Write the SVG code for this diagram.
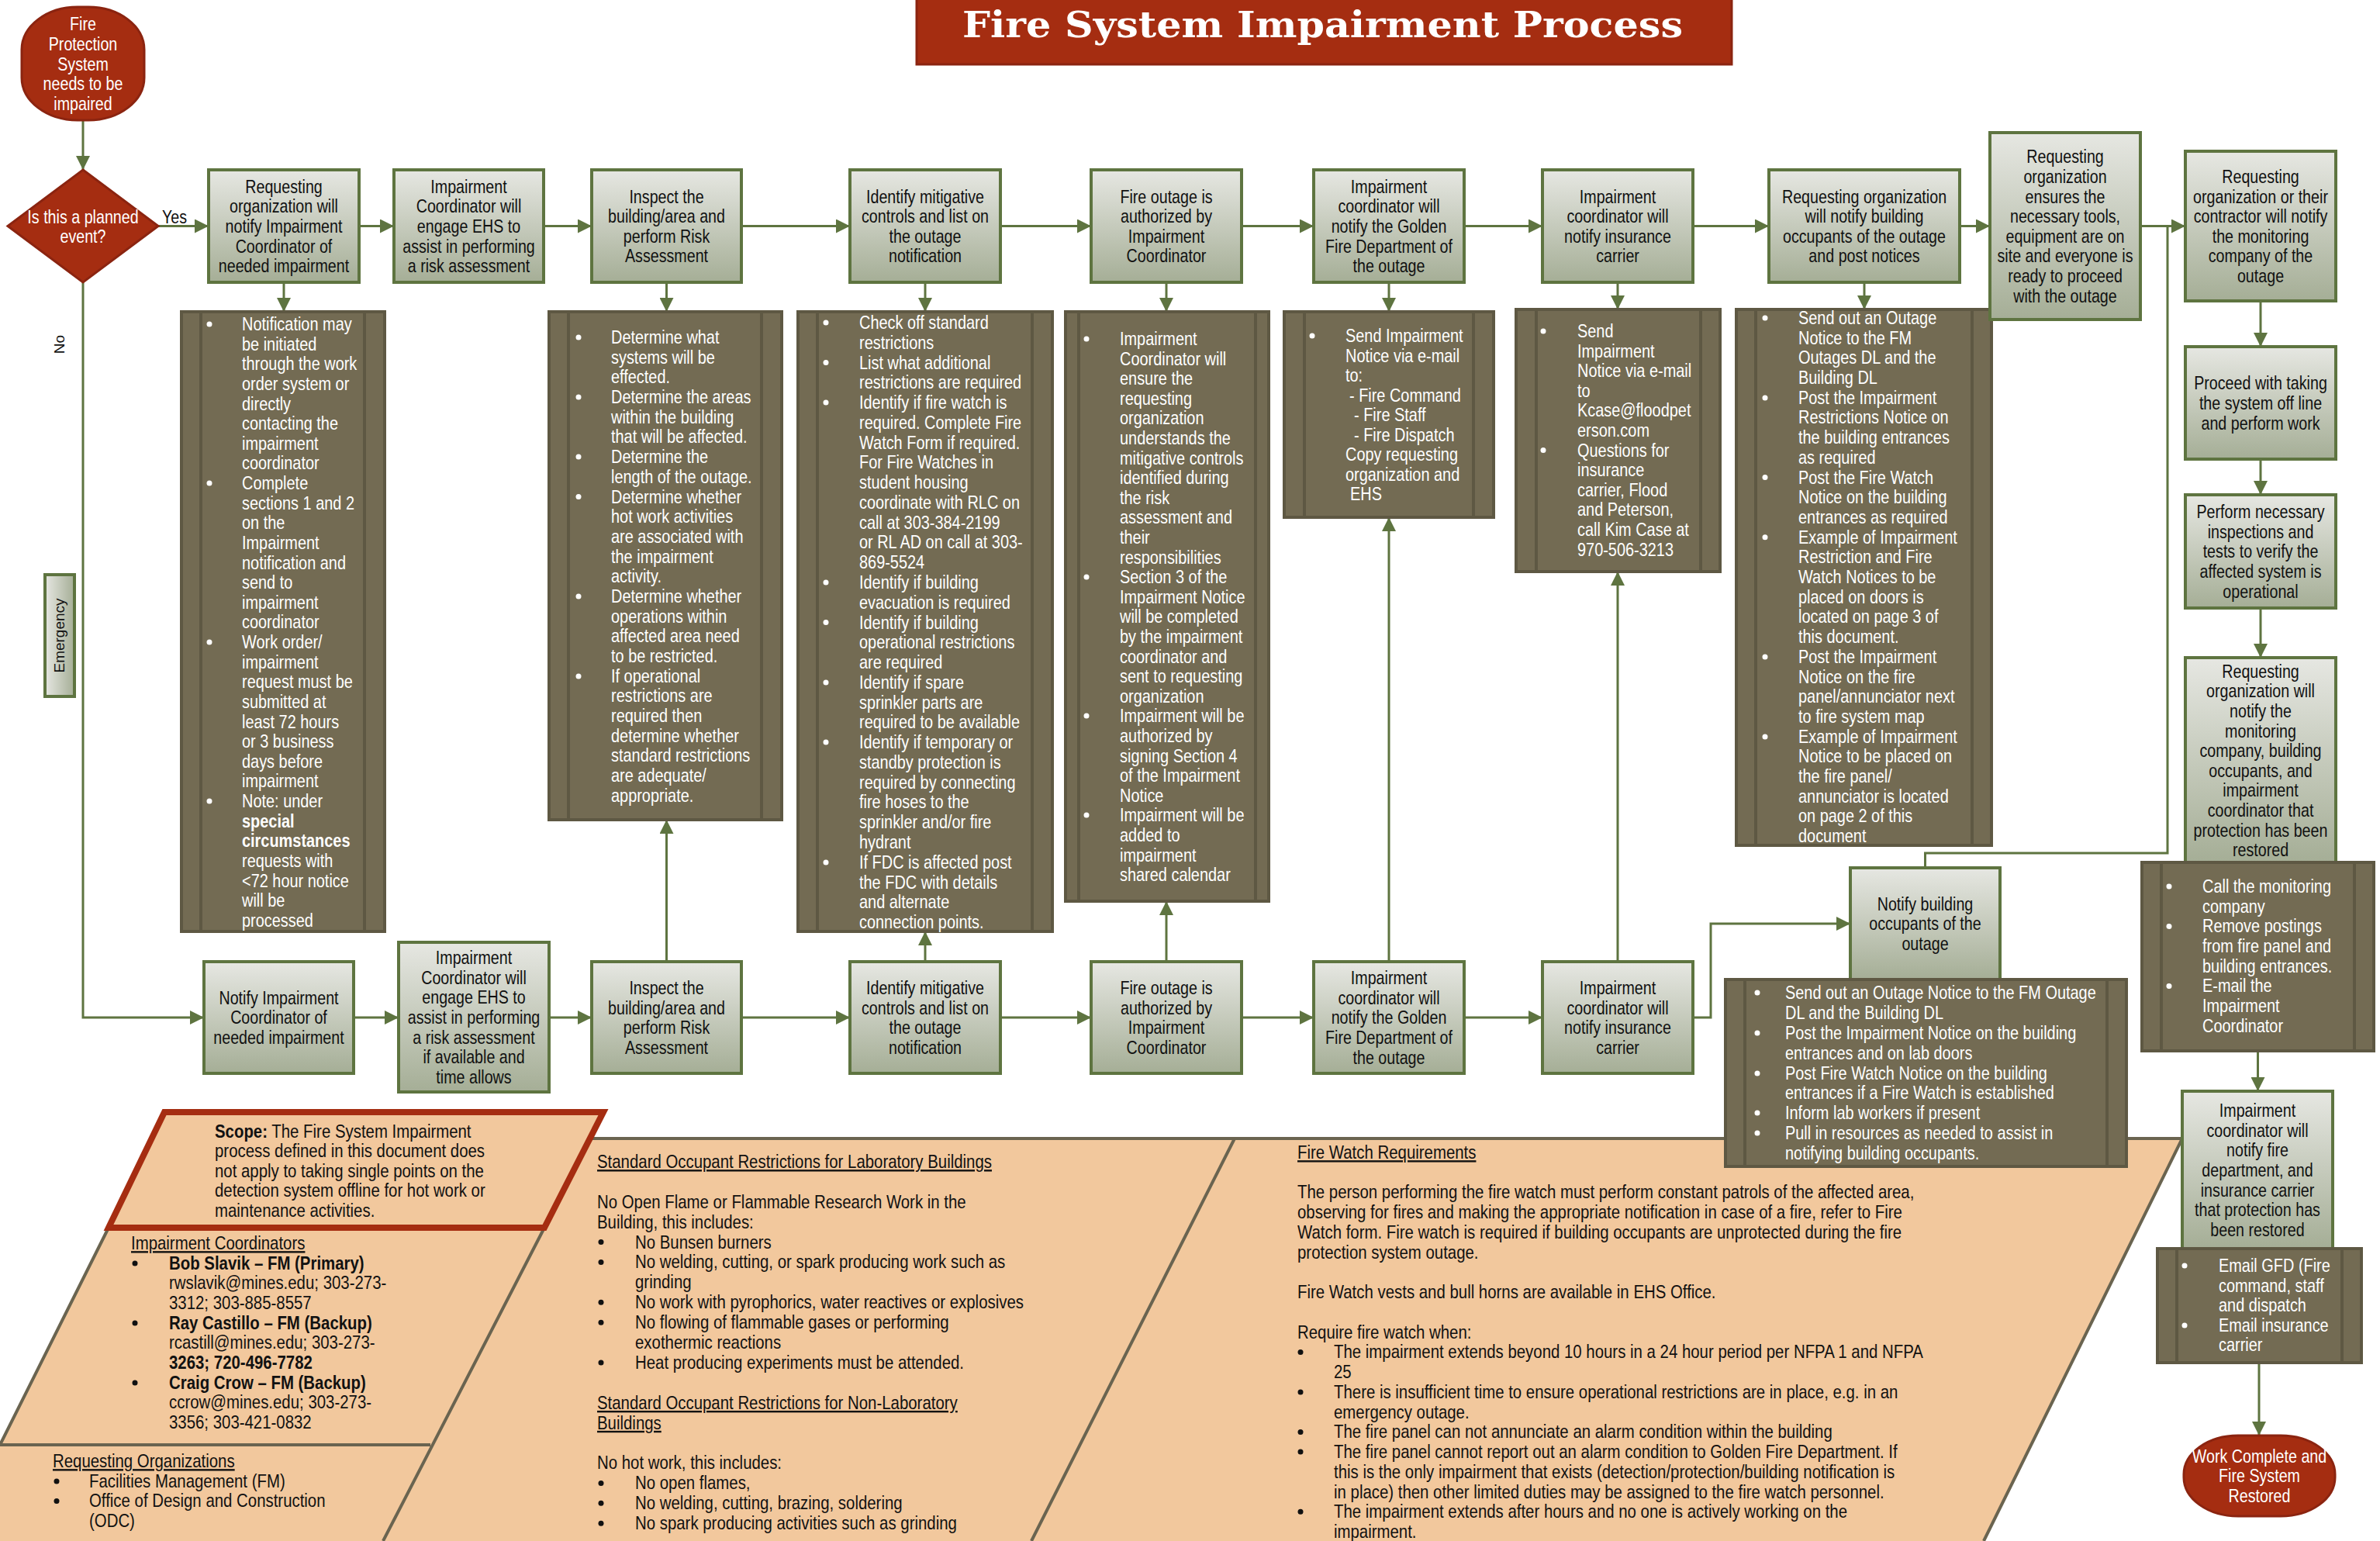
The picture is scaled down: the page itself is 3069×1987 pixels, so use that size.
<svg xmlns="http://www.w3.org/2000/svg" width="3069" height="1987" viewBox="0 0 3069 1987">
<defs>
<linearGradient id="gBox" x1="0" y1="0" x2="0" y2="1"><stop offset="0" stop-color="#E6E7E2"/><stop offset="1" stop-color="#A5AE96"/></linearGradient>
<linearGradient id="gBoxH" x1="0" y1="0" x2="1" y2="0"><stop offset="0" stop-color="#E6E7E2"/><stop offset="1" stop-color="#A5AE96"/></linearGradient>
<marker id="ah" viewBox="0 0 18 18" markerWidth="18" markerHeight="18" refX="18" refY="9" orient="auto" markerUnits="userSpaceOnUse"><path d="M0,0 L18,9 L0,18 z" fill="#5E7440"/></marker>
<style>
.box{fill:url(#gBox);stroke:#5E7440;stroke-width:4}
.boxh{fill:url(#gBoxH);stroke:#5E7440;stroke-width:4}
.note{fill:#736B53;stroke:#5E5843;stroke-width:4}
.nin{stroke:#5E5843;stroke-width:4;fill:none}
.term{fill:#A52D11;stroke:#8B2410;stroke-width:3}
.conn{stroke:#5E7440;stroke-width:3;fill:none}
.conn.a{marker-end:url(#ah)}
.t{font-family:"Liberation Sans",Arial,sans-serif;font-size:24px}
.bx{fill:#111;text-anchor:middle}
.wc{fill:#fff;text-anchor:middle}
.nw{fill:#fff}
.nb{fill:#111}
.wb{fill:#fff}
.bb{fill:#111}
.u{text-decoration:underline}
.b{font-weight:bold}
.peach{fill:#F2C89D}
.pl{stroke:#6A6450;stroke-width:4;fill:none}
.lbl{font-family:"Liberation Sans",sans-serif;font-size:19px;fill:#111}
</style>
</defs>
<rect width="3069" height="1987" fill="#fff"/>

<g id="info-panels">
<polygon class="peach" points="212,1434 778,1434 761,1468 2814,1468 2558,1987 0,1987 0,1863 140,1583"/>
<path class="pl" d="M761,1468 H2814 L2558,1987 M140,1583 L0,1863 M0,1863 H555 M702,1583 L494,1987 M1592,1468 L1330,1987"/>
<polygon points="212,1434 778,1434 702,1583 140,1583" fill="#F2C89D" stroke="#A52D11" stroke-width="8"/>
<text class="t nb" y="1467" transform="translate(277,0) scale(0.85,1)"><tspan x="0" class="b">Scope:</tspan> The Fire System Impairment<tspan x="0" dy="25.5">process defined in this document does</tspan><tspan x="0" dy="25.5">not apply to taking single points on the</tspan><tspan x="0" dy="25.5">detection system offline for hot work  or</tspan><tspan x="0" dy="25.5">maintenance activities.</tspan></text>
<text class="t nb" y="1611" transform="translate(169,0) scale(0.85,1)"><tspan x="0" class="u">Impairment Coordinators</tspan><tspan x="57.65" dy="25.65" class="b">Bob Slavik – FM (Primary)</tspan><tspan x="57.65" dy="25.65">rwslavik@mines.edu; 303-273-</tspan><tspan x="57.65" dy="25.65">3312; 303-885-8557</tspan><tspan x="57.65" dy="25.65" class="b">Ray Castillo – FM (Backup)</tspan><tspan x="57.65" dy="25.65">rcastill@mines.edu; 303-273-</tspan><tspan x="57.65" dy="25.65" class="b">3263; 720-496-7782</tspan><tspan x="57.65" dy="25.65" class="b">Craig Crow – FM (Backup)</tspan><tspan x="57.65" dy="25.65">ccrow@mines.edu; 303-273-</tspan><tspan x="57.65" dy="25.65">3356; 303-421-0832</tspan></text>
<g class="bb"><circle cx="174" cy="1629" r="3.5"/><circle cx="174" cy="1706" r="3.5"/><circle cx="174" cy="1783" r="3.5"/></g>
<text class="t nb" y="1892" transform="translate(68,0) scale(0.85,1)"><tspan x="0" class="u">Requesting Organizations</tspan><tspan x="55.3" dy="25.7">Facilities Management (FM)</tspan><tspan x="55.3" dy="25.7">Office of Design and Construction</tspan><tspan x="55.3" dy="25.7">(ODC)</tspan></text>
<g class="bb"><circle cx="73" cy="1910" r="3.5"/><circle cx="73" cy="1935.5" r="3.5"/></g>
<text class="t nb" y="1506" transform="translate(770,0) scale(0.85,1)"><tspan x="0" class="u">Standard Occupant Restrictions for Laboratory Buildings</tspan><tspan x="0" dy="51.8">No Open Flame or Flammable Research Work in the</tspan><tspan x="0" dy="25.9">Building, this includes:</tspan><tspan x="57.65" dy="25.9">No Bunsen burners</tspan><tspan x="57.65" dy="25.9">No welding, cutting, or spark producing work such as</tspan><tspan x="57.65" dy="25.9">grinding</tspan><tspan x="57.65" dy="25.9">No work with pyrophorics, water reactives or explosives</tspan><tspan x="57.65" dy="25.9">No flowing of flammable gases or performing</tspan><tspan x="57.65" dy="25.9">exothermic reactions</tspan><tspan x="57.65" dy="25.9">Heat producing experiments must be attended.</tspan><tspan x="0" dy="51.8" class="u">Standard Occupant Restrictions for Non-Laboratory</tspan><tspan x="0" dy="25.9" class="u">Buildings</tspan><tspan x="0" dy="51.8">No hot work, this includes:</tspan><tspan x="57.65" dy="25.9">No open flames,</tspan><tspan x="57.65" dy="25.9">No welding, cutting, brazing, soldering</tspan><tspan x="57.65" dy="25.9">No spark producing activities such as grinding</tspan></text>
<g class="bb"><circle cx="775" cy="1601.6" r="3.5"/><circle cx="775" cy="1627.5" r="3.5"/><circle cx="775" cy="1679.3" r="3.5"/><circle cx="775" cy="1705.2" r="3.5"/><circle cx="775" cy="1757" r="3.5"/><circle cx="775" cy="1912.4" r="3.5"/><circle cx="775" cy="1938.3" r="3.5"/><circle cx="775" cy="1964.2" r="3.5"/></g>
<text class="t nb" y="1494" transform="translate(1673,0) scale(0.85,1)"><tspan x="0" class="u">Fire Watch Requirements</tspan><tspan x="0" dy="51.48">The person performing the fire watch must perform constant patrols of the affected area,</tspan><tspan x="0" dy="25.74">observing for fires and making the appropriate notification in case of a fire, refer to Fire</tspan><tspan x="0" dy="25.74">Watch form.  Fire watch is required if building occupants are unprotected during the fire</tspan><tspan x="0" dy="25.74">protection system outage.</tspan><tspan x="0" dy="51.48">Fire Watch vests and bull horns are available in EHS Office.</tspan><tspan x="0" dy="51.48">Require fire watch when:</tspan><tspan x="55.3" dy="25.74">The impairment extends beyond 10 hours in a 24 hour period per NFPA 1 and NFPA</tspan><tspan x="55.3" dy="25.74">25</tspan><tspan x="55.3" dy="25.74">There is insufficient time to ensure operational restrictions are in place, e.g. in an</tspan><tspan x="55.3" dy="25.74">emergency outage.</tspan><tspan x="55.3" dy="25.74">The fire panel can not annunciate an alarm condition within the building</tspan><tspan x="55.3" dy="25.74">The fire panel cannot report out an alarm condition to Golden Fire Department. If</tspan><tspan x="55.3" dy="25.74">this is the only impairment that exists (detection/protection/building notification is</tspan><tspan x="55.3" dy="25.74">in place) then other limited duties may be assigned to the fire watch personnel.</tspan><tspan x="55.3" dy="25.74">The impairment extends after hours and no one is actively working on the</tspan><tspan x="55.3" dy="25.74">impairment.</tspan></text>
<g class="bb"><circle cx="1677" cy="1743.4" r="3.5"/><circle cx="1677" cy="1794.9" r="3.5"/><circle cx="1677" cy="1846.4" r="3.5"/><circle cx="1677" cy="1872.1" r="3.5"/><circle cx="1677" cy="1949.3" r="3.5"/></g>
</g>

<g id="connectors">
<path class="conn a" d="M107,155 V219"/>
<path class="conn a" d="M204,291.5 H269"/>
<path class="conn a" d="M463,291.5 H508"/>
<path class="conn a" d="M701,291.5 H763"/>
<path class="conn a" d="M956,291.5 H1096"/>
<path class="conn a" d="M1290,291.5 H1407"/>
<path class="conn a" d="M1601,291.5 H1694"/>
<path class="conn a" d="M1888,291.5 H1989"/>
<path class="conn a" d="M2183,291.5 H2281"/>
<path class="conn a" d="M2527,291.5 H2566"/>
<path class="conn a" d="M2760,291.5 H2818"/>
<path class="conn a" d="M366,364 V402"/>
<path class="conn a" d="M859.5,364 V402"/>
<path class="conn a" d="M1193,364 V402"/>
<path class="conn a" d="M1504,364 V402"/>
<path class="conn a" d="M1791,364 V402"/>
<path class="conn a" d="M2086,364 V399"/>
<path class="conn a" d="M2404,364 V399"/>
<path class="conn a" d="M2915,388 V447"/>
<path class="conn a" d="M2915,592 V638"/>
<path class="conn a" d="M2915,784 V848"/>
<path class="conn a" d="M2911.5,1355 V1407"/>
<path class="conn a" d="M2913,1757 V1851"/>
<path class="conn a" d="M107,364 V1312 H263"/>
<path class="conn a" d="M456,1312 H514"/>
<path class="conn a" d="M708,1312 H763"/>
<path class="conn a" d="M956,1312 H1096"/>
<path class="conn a" d="M1290,1312 H1407"/>
<path class="conn a" d="M1601,1312 H1694"/>
<path class="conn a" d="M1888,1312 H1989"/>
<path class="conn a" d="M859.5,1240 V1057"/>
<path class="conn a" d="M1193,1240 V1201"/>
<path class="conn a" d="M1504,1240 V1162"/>
<path class="conn a" d="M1791,1240 V667"/>
<path class="conn a" d="M2086,1240 V737"/>
<path class="conn a" d="M2183,1312 H2206 V1191 H2386"/>
<path class="conn" d="M2482.5,1119 V1100 H2795 V291.5"/>
<text class="t" y="288" font-size="22" fill="#111" transform="translate(209,0) scale(0.82,1)" x="0">Yes</text>
<text class="lbl" transform="translate(83,444) rotate(-90)" text-anchor="middle">No</text>
</g>

<g id="title">
<rect x="1182" y="-4" width="1051" height="87" fill="#A52D11" stroke="#8B2410" stroke-width="3"/>
<text x="1705.5" y="48" text-anchor="middle" font-family="'DejaVu Serif',serif" font-weight="bold" font-size="46" fill="#fff" textLength="929" lengthAdjust="spacingAndGlyphs">Fire System Impairment Process</text>
</g>

<g id="start">
<rect class="term" x="28" y="9" width="158" height="146" rx="72" ry="55"/>
<text class="t wc" y="39" transform="translate(107,0) scale(0.82,1)"><tspan x="0">Fire</tspan><tspan x="0" dy="25.8">Protection</tspan><tspan x="0" dy="25.8">System</tspan><tspan x="0" dy="25.8">needs to be</tspan><tspan x="0" dy="25.8">impaired</tspan></text>
</g>

<g id="decision">
<polygon points="107,219 204,291.5 107,364 10,291.5" fill="#A52D11" stroke="#8B2410" stroke-width="3"/>
<text class="t wc" y="287.7" transform="translate(107,0) scale(0.82,1)"><tspan x="0">Is this a planned</tspan><tspan x="0" dy="25.6">event?</tspan></text>
</g>

<g id="emergency-label">
<rect class="boxh" x="58" y="741" width="38" height="157"/>
<text class="lbl" transform="translate(83,819.5) rotate(-90)" text-anchor="middle">Emergency</text>
</g>

<g id="p1">
<rect class="box" x="269" y="219" width="194" height="145"/>
<text class="t bx" y="248.8" transform="translate(366,0) scale(0.82,1)"><tspan x="0">Requesting</tspan><tspan x="0" dy="25.6">organization will</tspan><tspan x="0" dy="25.6">notify Impairment</tspan><tspan x="0" dy="25.6">Coordinator of</tspan><tspan x="0" dy="25.6">needed impairment</tspan></text>
</g>
<g id="p2">
<rect class="box" x="508" y="219" width="193" height="145"/>
<text class="t bx" y="248.8" transform="translate(604.5,0) scale(0.82,1)"><tspan x="0">Impairment</tspan><tspan x="0" dy="25.6">Coordinator will</tspan><tspan x="0" dy="25.6">engage EHS to</tspan><tspan x="0" dy="25.6">assist in performing</tspan><tspan x="0" dy="25.6">a risk assessment</tspan></text>
</g>
<g id="p3">
<rect class="box" x="763" y="219" width="193" height="145"/>
<text class="t bx" y="261.6" transform="translate(859.5,0) scale(0.82,1)"><tspan x="0">Inspect the</tspan><tspan x="0" dy="25.6">building/area and</tspan><tspan x="0" dy="25.6">perform Risk</tspan><tspan x="0" dy="25.6">Assessment</tspan></text>
</g>
<g id="p4">
<rect class="box" x="1096" y="219" width="194" height="145"/>
<text class="t bx" y="261.6" transform="translate(1193,0) scale(0.82,1)"><tspan x="0">Identify mitigative</tspan><tspan x="0" dy="25.6">controls and list on</tspan><tspan x="0" dy="25.6">the outage</tspan><tspan x="0" dy="25.6">notification</tspan></text>
</g>
<g id="p5">
<rect class="box" x="1407" y="219" width="194" height="145"/>
<text class="t bx" y="261.6" transform="translate(1504,0) scale(0.82,1)"><tspan x="0">Fire outage is</tspan><tspan x="0" dy="25.6">authorized by</tspan><tspan x="0" dy="25.6">Impairment</tspan><tspan x="0" dy="25.6">Coordinator</tspan></text>
</g>
<g id="p6">
<rect class="box" x="1694" y="219" width="194" height="145"/>
<text class="t bx" y="248.8" transform="translate(1791,0) scale(0.82,1)"><tspan x="0">Impairment</tspan><tspan x="0" dy="25.6">coordinator will</tspan><tspan x="0" dy="25.6">notify the Golden</tspan><tspan x="0" dy="25.6">Fire Department of</tspan><tspan x="0" dy="25.6">the outage</tspan></text>
</g>
<g id="p7">
<rect class="box" x="1989" y="219" width="194" height="145"/>
<text class="t bx" y="261.6" transform="translate(2086,0) scale(0.82,1)"><tspan x="0">Impairment</tspan><tspan x="0" dy="25.6">coordinator will</tspan><tspan x="0" dy="25.6">notify  insurance</tspan><tspan x="0" dy="25.6">carrier</tspan></text>
</g>
<g id="p8">
<rect class="box" x="2281" y="219" width="246" height="145"/>
<text class="t bx" y="261.6" transform="translate(2404,0) scale(0.82,1)"><tspan x="0">Requesting organization</tspan><tspan x="0" dy="25.6">will notify building</tspan><tspan x="0" dy="25.6">occupants of the outage</tspan><tspan x="0" dy="25.6">and post notices</tspan></text>
</g>

<g id="n1">
<rect class="note" x="234" y="402" width="262" height="799"/>
<path class="nin" d="M259,402 V1201 M470,402 V1201"/>
<text class="t nw" y="426" transform="translate(312,0) scale(0.83,1)"><tspan x="0">Notification may</tspan><tspan x="0" dy="25.63">be initiated</tspan><tspan x="0" dy="25.63">through the work</tspan><tspan x="0" dy="25.63">order system or</tspan><tspan x="0" dy="25.63">directly</tspan><tspan x="0" dy="25.63">contacting the</tspan><tspan x="0" dy="25.63">impairment</tspan><tspan x="0" dy="25.63">coordinator</tspan><tspan x="0" dy="25.63">Complete</tspan><tspan x="0" dy="25.63">sections 1 and 2</tspan><tspan x="0" dy="25.63">on the</tspan><tspan x="0" dy="25.63">Impairment</tspan><tspan x="0" dy="25.63">notification and</tspan><tspan x="0" dy="25.63">send to</tspan><tspan x="0" dy="25.63">impairment</tspan><tspan x="0" dy="25.63">coordinator</tspan><tspan x="0" dy="25.63">Work order/</tspan><tspan x="0" dy="25.63">impairment</tspan><tspan x="0" dy="25.63">request must be</tspan><tspan x="0" dy="25.63">submitted at</tspan><tspan x="0" dy="25.63">least 72 hours</tspan><tspan x="0" dy="25.63">or 3 business</tspan><tspan x="0" dy="25.63">days before</tspan><tspan x="0" dy="25.63">impairment</tspan><tspan x="0" dy="25.63">Note: under</tspan><tspan x="0" dy="25.63" class="b">special</tspan><tspan x="0" dy="25.63" class="b">circumstances</tspan><tspan x="0" dy="25.63">requests with</tspan><tspan x="0" dy="25.63">&lt;72 hour notice</tspan><tspan x="0" dy="25.63">will be</tspan><tspan x="0" dy="25.63">processed</tspan></text>
<g class="wb"><circle cx="270" cy="418" r="3.5"/><circle cx="270" cy="623" r="3.5"/><circle cx="270" cy="828" r="3.5"/><circle cx="270" cy="1033" r="3.5"/></g>
</g>

<g id="n3">
<rect class="note" x="708" y="402" width="300" height="655"/>
<path class="nin" d="M733,402 V1057 M982,402 V1057"/>
<text class="t nw" y="443" transform="translate(788,0) scale(0.83,1)"><tspan x="0">Determine what</tspan><tspan x="0" dy="25.69">systems will be</tspan><tspan x="0" dy="25.69">effected.</tspan><tspan x="0" dy="25.69">Determine the areas</tspan><tspan x="0" dy="25.69">within the building</tspan><tspan x="0" dy="25.69">that will be affected.</tspan><tspan x="0" dy="25.69">Determine the</tspan><tspan x="0" dy="25.69">length of the outage.</tspan><tspan x="0" dy="25.69">Determine whether</tspan><tspan x="0" dy="25.69">hot work activities</tspan><tspan x="0" dy="25.69">are associated with</tspan><tspan x="0" dy="25.69">the impairment</tspan><tspan x="0" dy="25.69">activity.</tspan><tspan x="0" dy="25.69">Determine whether</tspan><tspan x="0" dy="25.69">operations within</tspan><tspan x="0" dy="25.69">affected area need</tspan><tspan x="0" dy="25.69">to be restricted.</tspan><tspan x="0" dy="25.69">If operational</tspan><tspan x="0" dy="25.69">restrictions are</tspan><tspan x="0" dy="25.69">required then</tspan><tspan x="0" dy="25.69">determine whether</tspan><tspan x="0" dy="25.69">standard restrictions</tspan><tspan x="0" dy="25.69">are adequate/</tspan><tspan x="0" dy="25.69">appropriate.</tspan></text>
<g class="wb"><circle cx="746" cy="435" r="3.5"/><circle cx="746" cy="512" r="3.5"/><circle cx="746" cy="589" r="3.5"/><circle cx="746" cy="640.5" r="3.5"/><circle cx="746" cy="769" r="3.5"/><circle cx="746" cy="872" r="3.5"/></g>
</g>

<g id="n4">
<rect class="note" x="1029" y="402" width="328" height="799"/>
<path class="nin" d="M1054,402 V1201 M1331,402 V1201"/>
<text class="t nw" y="424" transform="translate(1108,0) scale(0.83,1)"><tspan x="0">Check off standard</tspan><tspan x="0" dy="25.77">restrictions</tspan><tspan x="0" dy="25.77">List what additional</tspan><tspan x="0" dy="25.77">restrictions are required</tspan><tspan x="0" dy="25.77">Identify if fire watch is</tspan><tspan x="0" dy="25.77">required. Complete Fire</tspan><tspan x="0" dy="25.77">Watch Form if required.</tspan><tspan x="0" dy="25.77">For Fire Watches in</tspan><tspan x="0" dy="25.77">student housing</tspan><tspan x="0" dy="25.77">coordinate with RLC on</tspan><tspan x="0" dy="25.77">call at 303-384-2199</tspan><tspan x="0" dy="25.77">or RL AD on call at 303-</tspan><tspan x="0" dy="25.77">869-5524</tspan><tspan x="0" dy="25.77">Identify if building</tspan><tspan x="0" dy="25.77">evacuation is required</tspan><tspan x="0" dy="25.77">Identify if building</tspan><tspan x="0" dy="25.77">operational restrictions</tspan><tspan x="0" dy="25.77">are required</tspan><tspan x="0" dy="25.77">Identify if spare</tspan><tspan x="0" dy="25.77">sprinkler parts are</tspan><tspan x="0" dy="25.77">required to be available</tspan><tspan x="0" dy="25.77">Identify if  temporary or</tspan><tspan x="0" dy="25.77">standby protection is</tspan><tspan x="0" dy="25.77">required by connecting</tspan><tspan x="0" dy="25.77">fire hoses to the</tspan><tspan x="0" dy="25.77">sprinkler and/or fire</tspan><tspan x="0" dy="25.77">hydrant</tspan><tspan x="0" dy="25.77">If FDC is affected post</tspan><tspan x="0" dy="25.77">the FDC with details</tspan><tspan x="0" dy="25.77">and alternate</tspan><tspan x="0" dy="25.77">connection points.</tspan></text>
<g class="wb"><circle cx="1065" cy="416" r="3.5"/><circle cx="1065" cy="467.5" r="3.5"/><circle cx="1065" cy="519" r="3.5"/><circle cx="1065" cy="751" r="3.5"/><circle cx="1065" cy="802.5" r="3.5"/><circle cx="1065" cy="880" r="3.5"/><circle cx="1065" cy="957" r="3.5"/><circle cx="1065" cy="1112" r="3.5"/></g>
</g>

<g id="n5">
<rect class="note" x="1374" y="402" width="262" height="760"/>
<path class="nin" d="M1391,402 V1162 M1619,402 V1162"/>
<text class="t nw" y="445" transform="translate(1444,0) scale(0.83,1)"><tspan x="0">Impairment</tspan><tspan x="0" dy="25.6">Coordinator will</tspan><tspan x="0" dy="25.6">ensure the</tspan><tspan x="0" dy="25.6">requesting</tspan><tspan x="0" dy="25.6">organization</tspan><tspan x="0" dy="25.6">understands the</tspan><tspan x="0" dy="25.6">mitigative controls</tspan><tspan x="0" dy="25.6">identified during</tspan><tspan x="0" dy="25.6">the risk</tspan><tspan x="0" dy="25.6">assessment and</tspan><tspan x="0" dy="25.6">their</tspan><tspan x="0" dy="25.6">responsibilities</tspan><tspan x="0" dy="25.6">Section 3 of the</tspan><tspan x="0" dy="25.6">Impairment Notice</tspan><tspan x="0" dy="25.6">will be completed</tspan><tspan x="0" dy="25.6">by the impairment</tspan><tspan x="0" dy="25.6">coordinator and</tspan><tspan x="0" dy="25.6">sent to requesting</tspan><tspan x="0" dy="25.6">organization</tspan><tspan x="0" dy="25.6">Impairment will be</tspan><tspan x="0" dy="25.6">authorized by</tspan><tspan x="0" dy="25.6">signing Section 4</tspan><tspan x="0" dy="25.6">of the Impairment</tspan><tspan x="0" dy="25.6">Notice</tspan><tspan x="0" dy="25.6">Impairment will be</tspan><tspan x="0" dy="25.6">added to</tspan><tspan x="0" dy="25.6">impairment</tspan><tspan x="0" dy="25.6">shared calendar</tspan></text>
<g class="wb"><circle cx="1401" cy="437" r="3.5"/><circle cx="1401" cy="744" r="3.5"/><circle cx="1401" cy="923" r="3.5"/><circle cx="1401" cy="1051" r="3.5"/></g>
</g>

<g id="n6">
<rect class="note" x="1656" y="402" width="270" height="265"/>
<path class="nin" d="M1682,402 V667 M1900,402 V667"/>
<text class="t nw" y="441" transform="translate(1735,0) scale(0.83,1)"><tspan x="0">Send Impairment</tspan><tspan x="0" dy="25.55">Notice via e-mail</tspan><tspan x="0" dy="25.55">to:</tspan><tspan x="6" dy="25.55">-  Fire Command</tspan><tspan x="13.3" dy="25.55">- Fire Staff</tspan><tspan x="13.3" dy="25.55">- Fire Dispatch</tspan><tspan x="0" dy="25.55">Copy requesting</tspan><tspan x="0" dy="25.55">organization  and</tspan><tspan x="7.2" dy="25.55">EHS</tspan></text>
<g class="wb"><circle cx="1692" cy="433" r="3.5"/></g>
</g>

<g id="n7">
<rect class="note" x="1955" y="399" width="263" height="338"/>
<path class="nin" d="M1981,399 V737 M2193,399 V737"/>
<text class="t nw" y="435" transform="translate(2034,0) scale(0.83,1)"><tspan x="0">Send</tspan><tspan x="0" dy="25.6">Impairment</tspan><tspan x="0" dy="25.6">Notice via e-mail</tspan><tspan x="0" dy="25.6">to</tspan><tspan x="0" dy="25.6">Kcase@floodpet</tspan><tspan x="0" dy="25.6">erson.com</tspan><tspan x="0" dy="25.6">Questions for</tspan><tspan x="0" dy="25.6">insurance</tspan><tspan x="0" dy="25.6">carrier, Flood</tspan><tspan x="0" dy="25.6">and Peterson,</tspan><tspan x="0" dy="25.6">call Kim Case at</tspan><tspan x="0" dy="25.6">970-506-3213</tspan></text>
<g class="wb"><circle cx="1990" cy="427" r="3.5"/><circle cx="1990" cy="580.6" r="3.5"/></g>
</g>

<g id="n8">
<rect class="note" x="2239" y="399" width="329" height="691"/>
<path class="nin" d="M2264,399 V1090 M2543,399 V1090"/>
<text class="t nw" y="418" transform="translate(2319,0) scale(0.83,1)"><tspan x="0">Send out an Outage</tspan><tspan x="0" dy="25.7">Notice to the FM</tspan><tspan x="0" dy="25.7">Outages DL  and the</tspan><tspan x="0" dy="25.7">Building DL</tspan><tspan x="0" dy="25.7">Post the Impairment</tspan><tspan x="0" dy="25.7">Restrictions Notice on</tspan><tspan x="0" dy="25.7">the building entrances</tspan><tspan x="0" dy="25.7">as required</tspan><tspan x="0" dy="25.7">Post the Fire Watch</tspan><tspan x="0" dy="25.7">Notice on the building</tspan><tspan x="0" dy="25.7">entrances as required</tspan><tspan x="0" dy="25.7">Example of Impairment</tspan><tspan x="0" dy="25.7">Restriction  and Fire</tspan><tspan x="0" dy="25.7">Watch Notices to be</tspan><tspan x="0" dy="25.7">placed on doors is</tspan><tspan x="0" dy="25.7">located on page 3 of</tspan><tspan x="0" dy="25.7">this document.</tspan><tspan x="0" dy="25.7">Post the Impairment</tspan><tspan x="0" dy="25.7">Notice on the fire</tspan><tspan x="0" dy="25.7">panel/annunciator next</tspan><tspan x="0" dy="25.7">to fire system  map</tspan><tspan x="0" dy="25.7">Example of Impairment</tspan><tspan x="0" dy="25.7">Notice to be placed on</tspan><tspan x="0" dy="25.7">the fire panel/</tspan><tspan x="0" dy="25.7">annunciator is located</tspan><tspan x="0" dy="25.7">on page 2 of this</tspan><tspan x="0" dy="25.7">document</tspan></text>
<g class="wb"><circle cx="2276" cy="410" r="3.5"/><circle cx="2276" cy="513" r="3.5"/><circle cx="2276" cy="615.6" r="3.5"/><circle cx="2276" cy="692.7" r="3.5"/><circle cx="2276" cy="847" r="3.5"/><circle cx="2276" cy="950" r="3.5"/></g>
</g>

<g id="p9">
<rect class="box" x="2566" y="171" width="194" height="241"/>
<text class="t bx" y="210.4" transform="translate(2663,0) scale(0.82,1)"><tspan x="0">Requesting</tspan><tspan x="0" dy="25.6">organization</tspan><tspan x="0" dy="25.6">ensures the</tspan><tspan x="0" dy="25.6">necessary tools,</tspan><tspan x="0" dy="25.6">equipment are on</tspan><tspan x="0" dy="25.6">site and everyone is</tspan><tspan x="0" dy="25.6">ready to proceed</tspan><tspan x="0" dy="25.6">with the outage</tspan></text>
</g>
<g id="p10">
<rect class="box" x="2818" y="195" width="194" height="193"/>
<text class="t bx" y="236" transform="translate(2915,0) scale(0.82,1)"><tspan x="0">Requesting</tspan><tspan x="0" dy="25.6">organization or their</tspan><tspan x="0" dy="25.6">contractor will notify</tspan><tspan x="0" dy="25.6">the monitoring</tspan><tspan x="0" dy="25.6">company of the</tspan><tspan x="0" dy="25.6">outage</tspan></text>
</g>
<g id="p11">
<rect class="box" x="2818" y="447" width="194" height="145"/>
<text class="t bx" y="502.4" transform="translate(2915,0) scale(0.82,1)"><tspan x="0">Proceed with taking</tspan><tspan x="0" dy="25.6">the system off line</tspan><tspan x="0" dy="25.6">and perform work</tspan></text>
</g>
<g id="p12">
<rect class="box" x="2818" y="638" width="194" height="146"/>
<text class="t bx" y="668.3" transform="translate(2915,0) scale(0.82,1)"><tspan x="0">Perform necessary</tspan><tspan x="0" dy="25.6">inspections and</tspan><tspan x="0" dy="25.6">tests to verify the</tspan><tspan x="0" dy="25.6">affected system is</tspan><tspan x="0" dy="25.6">operational</tspan></text>
</g>
<g id="p13">
<rect class="box" x="2818" y="848" width="194" height="264"/>
<text class="t bx" y="873.8" transform="translate(2915,0) scale(0.82,1)"><tspan x="0">Requesting</tspan><tspan x="0" dy="25.6">organization will</tspan><tspan x="0" dy="25.6">notify the</tspan><tspan x="0" dy="25.6">monitoring</tspan><tspan x="0" dy="25.6">company, building</tspan><tspan x="0" dy="25.6">occupants, and</tspan><tspan x="0" dy="25.6">impairment</tspan><tspan x="0" dy="25.6">coordinator that</tspan><tspan x="0" dy="25.6">protection has been</tspan><tspan x="0" dy="25.6">restored</tspan></text>
</g>
<g id="n13">
<rect class="note" x="2762" y="1112" width="299" height="243"/>
<path class="nin" d="M2787,1112 V1355 M3036,1112 V1355"/>
<text class="t nw" y="1151" transform="translate(2840,0) scale(0.83,1)"><tspan x="0">Call the monitoring</tspan><tspan x="0" dy="25.7">company</tspan><tspan x="0" dy="25.7">Remove postings</tspan><tspan x="0" dy="25.7">from fire panel and</tspan><tspan x="0" dy="25.7">building entrances.</tspan><tspan x="0" dy="25.7">E-mail the</tspan><tspan x="0" dy="25.7">Impairment</tspan><tspan x="0" dy="25.7">Coordinator</tspan></text>
<g class="wb"><circle cx="2797" cy="1143" r="3.5"/><circle cx="2797" cy="1194.4" r="3.5"/><circle cx="2797" cy="1271.5" r="3.5"/></g>
</g>
<g id="p14">
<rect class="box" x="2814" y="1407" width="194" height="203"/>
<text class="t bx" y="1440.2" transform="translate(2911,0) scale(0.82,1)"><tspan x="0">Impairment</tspan><tspan x="0" dy="25.6">coordinator will</tspan><tspan x="0" dy="25.6">notify  fire</tspan><tspan x="0" dy="25.6">department, and</tspan><tspan x="0" dy="25.6">insurance carrier</tspan><tspan x="0" dy="25.6">that protection has</tspan><tspan x="0" dy="25.6">been restored</tspan></text>
</g>
<g id="n14">
<rect class="note" x="2782" y="1610" width="263" height="147"/>
<path class="nin" d="M2807,1610 V1757 M3020,1610 V1757"/>
<text class="t nw" y="1640" transform="translate(2861,0) scale(0.83,1)"><tspan x="0">Email GFD (Fire</tspan><tspan x="0" dy="25.6">command, staff</tspan><tspan x="0" dy="25.6">and dispatch</tspan><tspan x="0" dy="25.6">Email insurance</tspan><tspan x="0" dy="25.6">carrier</tspan></text>
<g class="wb"><circle cx="2817" cy="1632" r="3.5"/><circle cx="2817" cy="1709" r="3.5"/></g>
</g>
<g id="end">
<rect class="term" x="2816" y="1851" width="195" height="104" rx="70" ry="50"/>
<text class="t wc" y="1885.9" transform="translate(2913.5,0) scale(0.82,1)"><tspan x="0">Work Complete and</tspan><tspan x="0" dy="25.6">Fire System</tspan><tspan x="0" dy="25.6">Restored</tspan></text>
</g>

<g id="e1">
<rect class="box" x="263" y="1240" width="193" height="144"/>
<text class="t bx" y="1294.9" transform="translate(359.5,0) scale(0.82,1)"><tspan x="0">Notify Impairment</tspan><tspan x="0" dy="25.6">Coordinator of</tspan><tspan x="0" dy="25.6">needed impairment</tspan></text>
</g>
<g id="e2">
<rect class="box" x="514" y="1215" width="194" height="193"/>
<text class="t bx" y="1243.2" transform="translate(611,0) scale(0.82,1)"><tspan x="0">Impairment</tspan><tspan x="0" dy="25.6">Coordinator will</tspan><tspan x="0" dy="25.6">engage EHS to</tspan><tspan x="0" dy="25.6">assist in performing</tspan><tspan x="0" dy="25.6">a risk assessment</tspan><tspan x="0" dy="25.6">if available and</tspan><tspan x="0" dy="25.6">time allows</tspan></text>
</g>
<g id="e3">
<rect class="box" x="763" y="1240" width="193" height="144"/>
<text class="t bx" y="1282.1" transform="translate(859.5,0) scale(0.82,1)"><tspan x="0">Inspect the</tspan><tspan x="0" dy="25.6">building/area and</tspan><tspan x="0" dy="25.6">perform Risk</tspan><tspan x="0" dy="25.6">Assessment</tspan></text>
</g>
<g id="e4">
<rect class="box" x="1096" y="1240" width="194" height="144"/>
<text class="t bx" y="1282.1" transform="translate(1193,0) scale(0.82,1)"><tspan x="0">Identify mitigative</tspan><tspan x="0" dy="25.6">controls and list on</tspan><tspan x="0" dy="25.6">the outage</tspan><tspan x="0" dy="25.6">notification</tspan></text>
</g>
<g id="e5">
<rect class="box" x="1407" y="1240" width="194" height="144"/>
<text class="t bx" y="1282.1" transform="translate(1504,0) scale(0.82,1)"><tspan x="0">Fire outage is</tspan><tspan x="0" dy="25.6">authorized by</tspan><tspan x="0" dy="25.6">Impairment</tspan><tspan x="0" dy="25.6">Coordinator</tspan></text>
</g>
<g id="e6">
<rect class="box" x="1694" y="1240" width="194" height="144"/>
<text class="t bx" y="1269.3" transform="translate(1791,0) scale(0.82,1)"><tspan x="0">Impairment</tspan><tspan x="0" dy="25.6">coordinator will</tspan><tspan x="0" dy="25.6">notify the Golden</tspan><tspan x="0" dy="25.6">Fire Department of</tspan><tspan x="0" dy="25.6">the outage</tspan></text>
</g>
<g id="e7">
<rect class="box" x="1989" y="1240" width="194" height="144"/>
<text class="t bx" y="1282.1" transform="translate(2086,0) scale(0.82,1)"><tspan x="0">Impairment</tspan><tspan x="0" dy="25.6">coordinator will</tspan><tspan x="0" dy="25.6">notify insurance</tspan><tspan x="0" dy="25.6">carrier</tspan></text>
</g>
<g id="e8">
<rect class="box" x="2386" y="1119" width="193" height="144"/>
<text class="t bx" y="1173.9" transform="translate(2482.5,0) scale(0.82,1)"><tspan x="0">Notify building</tspan><tspan x="0" dy="25.6">occupants of the</tspan><tspan x="0" dy="25.6">outage</tspan></text>
</g>
<g id="ne8">
<rect class="note" x="2225" y="1263" width="517" height="241"/>
<path class="nin" d="M2250,1263 V1504 M2717,1263 V1504"/>
<text class="t nw" y="1288" transform="translate(2302,0) scale(0.83,1)"><tspan x="0">Send out an Outage Notice to the FM Outage</tspan><tspan x="0" dy="25.9">DL and the Building DL</tspan><tspan x="0" dy="25.9">Post the Impairment Notice on the building</tspan><tspan x="0" dy="25.9">entrances and on lab doors</tspan><tspan x="0" dy="25.9">Post Fire Watch Notice on the building</tspan><tspan x="0" dy="25.9">entrances if a Fire Watch is established</tspan><tspan x="0" dy="25.9">Inform lab workers if present</tspan><tspan x="0" dy="25.9">Pull in resources as needed to assist in</tspan><tspan x="0" dy="25.9">notifying building occupants.</tspan></text>
<g class="wb"><circle cx="2266" cy="1280" r="3.5"/><circle cx="2266" cy="1332" r="3.5"/><circle cx="2266" cy="1384" r="3.5"/><circle cx="2266" cy="1435" r="3.5"/><circle cx="2266" cy="1461" r="3.5"/></g>
</g>
</svg>
